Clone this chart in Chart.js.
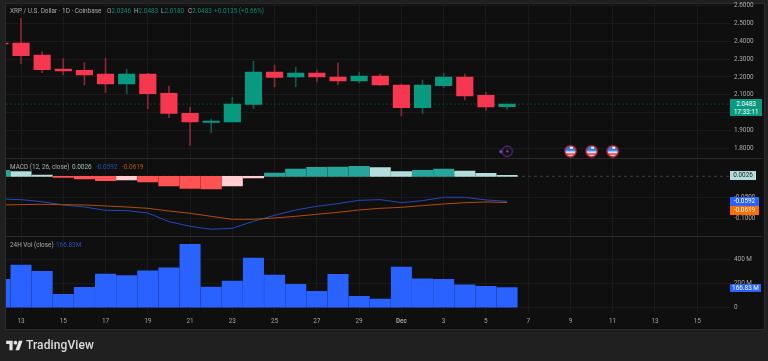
<!DOCTYPE html>
<html><head><meta charset="utf-8">
<script src="https://cdn.jsdelivr.net/npm/chart.js@4"></script>
<style>
html,body{margin:0;padding:0;background:#202020;width:768px;height:361px;overflow:hidden;font-family:Roboto,"Liberation Sans",sans-serif}
#panel{position:absolute;left:5px;top:3px;width:758px;height:325px;background:#0f0f0f;border:1px solid #2b2b2b}
canvas{position:absolute;left:0;top:0}
.t{position:absolute;font-size:6.4px;line-height:8px;white-space:nowrap;color:#a9abb2}
.g{color:#0b8a74}.sep{position:absolute;left:6px;width:757px;height:1px;background:#2a2a2a}
.b{position:absolute;left:730px;font-size:6.4px;color:#fff;text-align:center;white-space:nowrap}
</style></head><body>
<div id="panel"></div>
<canvas id="c" width="768" height="361"></canvas>
<div class="sep" style="top:158px"></div><div class="sep" style="top:236px"></div>
<div class="t" style="left:10px;top:7px">XRP / U.S. Dollar · 1D · Coinbase</div>
<div class="t" style="left:107px;top:7px">O<span class="g">2.0346</span></div>
<div class="t" style="left:134px;top:7px">H<span class="g">2.0483</span></div>
<div class="t" style="left:161px;top:7px">L<span class="g">2.0180</span></div>
<div class="t" style="left:188px;top:7px">C<span class="g">2.0483</span></div>
<div class="t g" style="left:214px;top:7px">+0.0135 (+0.66%)</div>
<div class="t" style="left:10px;top:163px">MACD (12, 26, close)</div>
<div class="t" style="left:72px;top:163px;color:#9fc4c0">0.0026</div>
<div class="t" style="left:96px;top:163px;color:#2a4fb5">-0.0592</div>
<div class="t" style="left:122px;top:163px;color:#b85a10">-0.0619</div>
<div class="t" style="left:10px;top:241px">24H Vol (close)</div>
<div class="t" style="left:56px;top:241px;color:#2a4fb5">166.83M</div>
<div class="b" style="top:99px;width:32px;height:17px;line-height:8px;background:#089981;padding-top:0"><div style="margin-top:1px">2.0483</div><div>17:33:11</div></div>
<div class="b" style="top:171px;width:26px;height:8.5px;line-height:8.5px;background:#b2dfdb;color:#222">0.0026</div>
<div class="b" style="top:197px;width:29px;height:8.5px;line-height:8.5px;background:#2962ff">-0.0592</div>
<div class="b" style="top:205.5px;width:29px;height:9px;line-height:9px;background:#ff6d00">-0.0619</div>
<div class="b" style="top:283.5px;width:31px;height:8.5px;line-height:8.5px;background:#2962ff">166.83 M</div>
<svg style="position:absolute;left:6px;top:339px" width="17" height="13" viewBox="0 0 36 28"><path fill="#e4e4e4" d="M14 24H7V11H0V4h14v20zM28 24h-8l7.5-20h8L28 24z"/><circle fill="#e4e4e4" cx="20" cy="8" r="4"/></svg>
<div style="position:absolute;left:26px;top:337px;font-size:12px;line-height:16px;font-weight:500;color:#dcdcdc;letter-spacing:.1px">TradingView</div>
<script>
const days = ['12','13','14','15','16','17','18','19','20','21','22','23','24','25','26','27','28','29','30','Dec','2','3','4','5','6'];
const open  = [2.3898,2.3898,2.3227,2.2445,2.2371,2.2166,2.1607,2.2166,2.1086,1.9969,1.9466,1.9484,2.0471,2.2278,2.1998,2.2222,2.1998,2.1775,2.2054,2.1551,2.0285,2.1514,2.1998,2.0974,2.0346];
const high  = [2.3898,2.5276,2.3414,2.3022,2.2799,2.3060,2.2427,2.2203,2.1496,2.0322,1.9652,2.0862,2.2892,2.2669,2.2557,2.2389,2.2780,2.2278,2.2166,2.1607,2.1831,2.2222,2.2166,2.1160,2.0483];
const low   = [2.3850,2.2762,2.2240,2.2110,2.1551,2.1123,2.1049,2.0229,1.9726,1.8181,1.8870,1.9484,2.0229,2.1440,2.1458,2.1719,2.1551,2.1663,2.1533,1.9820,1.9969,2.1402,2.0713,2.0136,2.0180];
const close = [2.3850,2.3190,2.2408,2.2334,2.2110,2.1607,2.2166,2.1067,1.9969,1.9484,1.9540,2.0490,2.2278,2.1980,2.2222,2.1998,2.1775,2.2054,2.1551,2.0285,2.1551,2.1998,2.0937,2.0322,2.0483];
const macdHist = [0.0142,0.0110,0.0032,-0.0024,-0.0063,-0.0102,-0.0087,-0.0134,-0.0229,-0.0284,-0.0300,-0.0229,-0.0040,0.0079,0.0173,0.0213,0.0221,0.0236,0.0205,0.0110,0.0142,0.0173,0.0126,0.0071,0.0026];
const macdLine = [-0.0536,-0.0552,-0.0599,-0.0678,-0.0725,-0.0804,-0.0812,-0.0867,-0.1072,-0.1182,-0.1253,-0.1229,-0.1064,-0.0922,-0.0796,-0.0709,-0.0646,-0.0567,-0.0552,-0.0623,-0.0575,-0.0496,-0.0496,-0.0559,-0.0592];
const signalLine = [-0.0678,-0.0670,-0.0662,-0.0670,-0.0678,-0.0701,-0.0725,-0.0757,-0.0820,-0.0875,-0.0946,-0.1017,-0.1017,-0.0985,-0.0946,-0.0898,-0.0851,-0.0796,-0.0757,-0.0733,-0.0693,-0.0654,-0.0623,-0.0607,-0.0619];
const volume = [235,353,301,110,168,279,265,306,331,524,171,221,411,270,193,135,276,94,72,337,240,235,190,177,166.83];
const tickDays = [1,3,5,7,9,11,13,15,17,19,21,23,25,27,29,31,33];
const tickLabels = ['13','15','17','19','21','23','25','27','29','Dec','3','5','7','9','11','13','15'];
const priceTicks = [1.8,1.9,2.0,2.1,2.2,2.3,2.4,2.5,2.6];
const macdTicks = [-0.1,-0.05];
const volTicks = [0,200,400];
const newsDays = [27,28,29];
const boltDays = [24];
const markerPrice = 1.785;
const lastPrice = 2.0483;
const xMin = 0.29, xMax = 34.55;

const RED='#f7374f',GREEN='#089981',REDW='#8c2634',GREENW='#0e5a4c';
const idx = days.map((_,i)=>i);
const up = i=>close[i]>=open[i];
const ticksFrom = a => axis => { axis.ticks = a.map(value=>({value})); };
const noPad = s => { s.paddingTop=s.paddingBottom=s.paddingLeft=s.paddingRight=0; };

function flagIcon(){const c=document.createElement('canvas');c.width=c.height=13;const g=c.getContext('2d');
  g.beginPath();g.arc(6.5,6.5,5.6,0,7);g.fillStyle='#e8eef8';g.fill();g.save();g.clip();
  g.fillStyle='#2f7fe8';g.fillRect(0,0,13,6.5);g.fillStyle='#e0323c';g.fillRect(0,8.5,13,1.5);g.fillStyle='#f4f4f4';g.fillRect(6,2,3,2);g.restore();
  g.beginPath();g.arc(6.5,6.5,5.6,0,7);g.lineWidth=1.3;g.strokeStyle='#c8202f';g.stroke();return c;}
function boltIcon(){const c=document.createElement('canvas');c.width=16;c.height=13;const g=c.getContext('2d');
  g.beginPath();g.arc(9,6.5,5.2,0,7);g.lineWidth=1;g.strokeStyle='#7a34a8';g.stroke();
  g.beginPath();g.moveTo(10.3,3);g.lineTo(7.6,7);g.lineTo(9.4,7);g.lineTo(7.8,10);g.lineTo(10.8,6);g.lineTo(9,6);g.closePath();g.fillStyle='#9a55cc';g.fill();
  g.beginPath();g.arc(2.6,6.8,1.6,0,7);g.fillStyle='#6a4fe8';g.fill();return c;}

const yScale = (extra) => Object.assign({
  position:'right', stack:'panes', border:{display:false},
  grid:{color:'#1a1a1a',drawTicks:false,lineWidth:1},
  afterFit:s=>{s.width=32;noPad(s);}
},extra);
const tickFont={family:'Roboto',size:6.4};

new Chart(document.getElementById('c'),{
  type:'bar',
  data:{datasets:[
    {type:'line',yAxisID:'y',order:9,data:[{x:xMin,y:lastPrice},{x:xMax,y:lastPrice}],borderColor:'#0c3a31',borderWidth:1,borderDash:[2,2],pointRadius:0},
    {yAxisID:'y',order:5,grouped:false,barThickness:1,data:idx.map(i=>({x:i,y:[low[i],high[i]]})),backgroundColor:idx.map(i=>up(i)?GREENW:REDW)},
    {yAxisID:'y',order:4,grouped:false,barThickness:16.5,borderSkipped:false,data:idx.map(i=>({x:i,y:[open[i],close[i]]})),backgroundColor:idx.map(i=>up(i)?GREEN:RED)},
    {type:'scatter',yAxisID:'y',order:1,data:newsDays.map(x=>({x,y:markerPrice})),pointStyle:flagIcon(),pointRadius:6},
    {type:'scatter',yAxisID:'y',order:1,data:boltDays.map(x=>({x:x-0.04,y:markerPrice})),pointStyle:boltIcon(),pointRadius:6},
    {type:'line',yAxisID:'macd',order:9,data:[{x:xMin,y:0},{x:xMax,y:0}],borderColor:'#3d3d3d',borderWidth:1,borderDash:[3,3],pointRadius:0},
    {yAxisID:'macd',order:4,grouped:false,barThickness:20.4,data:idx.map(i=>({x:i,y:macdHist[i]})),
      backgroundColor:idx.map(i=>{const v=macdHist[i],p=i?macdHist[i-1]:0;return v>=0?(v>=p?'#26a69a':'#b2dfdb'):(v<p?'#ff5252':'#ffcdd2');})},
    {type:'line',yAxisID:'macd',order:2,data:idx.map(i=>({x:i,y:macdLine[i]})),borderColor:'#2349b8',borderWidth:1,pointRadius:0,tension:0},
    {type:'line',yAxisID:'macd',order:1,data:idx.map(i=>({x:i,y:signalLine[i]})),borderColor:'#b34d05',borderWidth:1,pointRadius:0,tension:0},
    {yAxisID:'vol',order:4,grouped:false,barThickness:20.4,data:idx.map(i=>({x:i,y:volume[i]})),backgroundColor:'#2962ff'}
  ]},
  options:{
    responsive:false,animation:false,events:[],
    layout:{autoPadding:false,padding:{left:6,right:6,top:3.5,bottom:32}},
    plugins:{legend:{display:false},tooltip:{enabled:false},title:{display:false}},
    scales:{
      x:{type:'linear',offset:false,min:xMin,max:xMax,position:'bottom',border:{display:false},
        grid:{offset:false,color:'#1a1a1a',drawTicks:false},
        afterBuildTicks:ticksFrom(tickDays),
        afterFit:s=>{s.height=16;noPad(s);},
        ticks:{autoSkip:false,maxRotation:0,padding:5,color:'#a3a3a3',
          font:c=>({family:'Roboto',size:6.4,weight:c.tick&&c.tick.value===19?'bold':'normal'}),
          callback:v=>tickLabels[tickDays.indexOf(v)]}},
      y:yScale({weight:1,stackWeight:154.8,min:1.7455,max:2.6104,afterBuildTicks:ticksFrom(priceTicks),
        ticks:{autoSkip:false,crossAlign:'near',padding:4,color:'#a9a9a9',font:tickFont,callback:v=>v.toFixed(4)}}),
      macd:yScale({weight:2,stackWeight:78.4,min:-0.1428,max:0.0426,afterBuildTicks:ticksFrom(macdTicks),
        ticks:{autoSkip:false,crossAlign:'near',padding:4,color:'#a9a9a9',font:tickFont,callback:v=>v.toFixed(4)}}),
      vol:yScale({weight:3,stackWeight:76.3,min:-43.9,max:588,afterBuildTicks:ticksFrom(volTicks),
        ticks:{autoSkip:false,crossAlign:'near',padding:4,color:'#a9a9a9',font:tickFont,callback:v=>v?v+' M':'0'}})
    }
  }
});
</script>
</body></html>
